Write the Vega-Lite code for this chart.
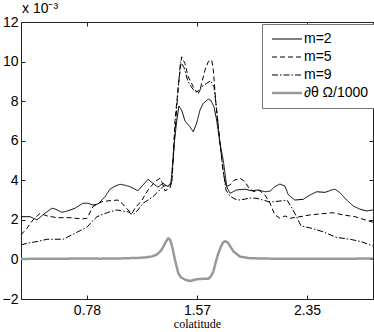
{
  "$schema": "https://vega.github.io/schema/vega-lite/v6.json",
  "width": 352,
  "height": 277,
  "autosize": {"type": "none"},
  "padding": {"left": 21, "top": 22, "right": 1, "bottom": 33},
  "config": {
    "view": {"stroke": "#222222", "strokeWidth": 1},
    "font": "Liberation Sans",
    "axis": {"domain": false, "grid": false, "tickColor": "#222222", "tickSize": -4, "labelColor": "black", "labelFontSize": 14, "labelFont": "Liberation Sans"},
    "legend": {"fillColor": "white", "strokeColor": "#777777", "padding": 8, "labelFontSize": 14, "labelFont": "Liberation Sans", "labelColor": "black", "symbolType": "stroke", "symbolSize": 900, "symbolStrokeWidth": 1, "symbolOffset": 10, "rowPadding": 4, "labelOffset": 10}
  },
  "datasets": {
    "curves": [
      {"series": "m=2", "x": 0.314, "y": 2.16}, {"series": "m=2", "x": 0.378, "y": 2.16}, {"series": "m=2", "x": 0.428, "y": 2.0}, {"series": "m=2", "x": 0.485, "y": 2.33}, {"series": "m=2", "x": 0.535, "y": 2.59}, {"series": "m=2", "x": 0.557, "y": 2.55}, {"series": "m=2", "x": 0.607, "y": 2.38}, {"series": "m=2", "x": 0.65, "y": 2.46}, {"series": "m=2", "x": 0.7, "y": 2.59}, {"series": "m=2", "x": 0.757, "y": 2.84}, {"series": "m=2", "x": 0.792, "y": 2.84}, {"series": "m=2", "x": 0.828, "y": 2.75}, {"series": "m=2", "x": 0.864, "y": 2.8}, {"series": "m=2", "x": 0.914, "y": 3.17}, {"series": "m=2", "x": 0.949, "y": 3.55}, {"series": "m=2", "x": 0.985, "y": 3.7}, {"series": "m=2", "x": 1.021, "y": 3.8}, {"series": "m=2", "x": 1.057, "y": 3.75}, {"series": "m=2", "x": 1.092, "y": 3.68}, {"series": "m=2", "x": 1.149, "y": 3.47}, {"series": "m=2", "x": 1.185, "y": 3.76}, {"series": "m=2", "x": 1.221, "y": 4.05}, {"series": "m=2", "x": 1.256, "y": 3.85}, {"series": "m=2", "x": 1.292, "y": 3.65}, {"series": "m=2", "x": 1.328, "y": 3.85}, {"series": "m=2", "x": 1.364, "y": 3.68}, {"series": "m=2", "x": 1.385, "y": 3.9}, {"series": "m=2", "x": 1.399, "y": 5.0}, {"series": "m=2", "x": 1.41, "y": 6.0}, {"series": "m=2", "x": 1.426, "y": 7.0}, {"series": "m=2", "x": 1.442, "y": 7.75}, {"series": "m=2", "x": 1.461, "y": 7.55}, {"series": "m=2", "x": 1.485, "y": 7.0}, {"series": "m=2", "x": 1.521, "y": 6.7}, {"series": "m=2", "x": 1.544, "y": 6.45}, {"series": "m=2", "x": 1.568, "y": 6.88}, {"series": "m=2", "x": 1.592, "y": 7.55}, {"series": "m=2", "x": 1.616, "y": 7.89}, {"series": "m=2", "x": 1.651, "y": 8.1}, {"series": "m=2", "x": 1.668, "y": 8.05}, {"series": "m=2", "x": 1.692, "y": 7.72}, {"series": "m=2", "x": 1.711, "y": 7.05}, {"series": "m=2", "x": 1.735, "y": 5.87}, {"series": "m=2", "x": 1.758, "y": 5.03}, {"series": "m=2", "x": 1.783, "y": 3.68}, {"series": "m=2", "x": 1.806, "y": 3.34}, {"series": "m=2", "x": 1.854, "y": 3.51}, {"series": "m=2", "x": 1.913, "y": 3.55}, {"series": "m=2", "x": 1.961, "y": 3.47}, {"series": "m=2", "x": 2.008, "y": 3.51}, {"series": "m=2", "x": 2.056, "y": 3.42}, {"series": "m=2", "x": 2.092, "y": 3.45}, {"series": "m=2", "x": 2.127, "y": 3.68}, {"series": "m=2", "x": 2.163, "y": 3.81}, {"series": "m=2", "x": 2.199, "y": 3.7}, {"series": "m=2", "x": 2.223, "y": 3.26}, {"series": "m=2", "x": 2.27, "y": 3.0}, {"series": "m=2", "x": 2.33, "y": 3.04}, {"series": "m=2", "x": 2.378, "y": 3.26}, {"series": "m=2", "x": 2.425, "y": 3.42}, {"series": "m=2", "x": 2.485, "y": 3.39}, {"series": "m=2", "x": 2.532, "y": 3.51}, {"series": "m=2", "x": 2.556, "y": 3.55}, {"series": "m=2", "x": 2.592, "y": 3.37}, {"series": "m=2", "x": 2.64, "y": 3.0}, {"series": "m=2", "x": 2.687, "y": 2.7}, {"series": "m=2", "x": 2.734, "y": 2.54}, {"series": "m=2", "x": 2.782, "y": 2.45}, {"series": "m=2", "x": 2.827, "y": 2.5},

      {"series": "m=5", "x": 0.314, "y": 1.24}, {"series": "m=5", "x": 0.357, "y": 1.58}, {"series": "m=5", "x": 0.4, "y": 2.0}, {"series": "m=5", "x": 0.45, "y": 2.33}, {"series": "m=5", "x": 0.5, "y": 2.2}, {"series": "m=5", "x": 0.571, "y": 2.11}, {"series": "m=5", "x": 0.664, "y": 2.11}, {"series": "m=5", "x": 0.75, "y": 2.05}, {"series": "m=5", "x": 0.785, "y": 2.08}, {"series": "m=5", "x": 0.828, "y": 2.67}, {"series": "m=5", "x": 0.892, "y": 2.92}, {"series": "m=5", "x": 0.949, "y": 2.97}, {"series": "m=5", "x": 1.007, "y": 3.0}, {"series": "m=5", "x": 1.035, "y": 2.84}, {"series": "m=5", "x": 1.078, "y": 2.5}, {"series": "m=5", "x": 1.107, "y": 2.33}, {"series": "m=5", "x": 1.128, "y": 2.59}, {"series": "m=5", "x": 1.178, "y": 3.0}, {"series": "m=5", "x": 1.221, "y": 3.51}, {"series": "m=5", "x": 1.271, "y": 3.93}, {"series": "m=5", "x": 1.306, "y": 4.1}, {"series": "m=5", "x": 1.321, "y": 3.9}, {"series": "m=5", "x": 1.342, "y": 3.47}, {"series": "m=5", "x": 1.378, "y": 3.6}, {"series": "m=5", "x": 1.392, "y": 4.0}, {"series": "m=5", "x": 1.414, "y": 7.05}, {"series": "m=5", "x": 1.437, "y": 8.73}, {"series": "m=5", "x": 1.461, "y": 10.24}, {"series": "m=5", "x": 1.485, "y": 9.9}, {"series": "m=5", "x": 1.508, "y": 9.23}, {"series": "m=5", "x": 1.544, "y": 8.73}, {"series": "m=5", "x": 1.568, "y": 8.47}, {"series": "m=5", "x": 1.592, "y": 8.56}, {"series": "m=5", "x": 1.628, "y": 9.57}, {"series": "m=5", "x": 1.651, "y": 9.99}, {"series": "m=5", "x": 1.676, "y": 10.08}, {"series": "m=5", "x": 1.687, "y": 9.6}, {"series": "m=5", "x": 1.706, "y": 7.89}, {"series": "m=5", "x": 1.735, "y": 5.88}, {"series": "m=5", "x": 1.756, "y": 4.5}, {"series": "m=5", "x": 1.778, "y": 3.68}, {"series": "m=5", "x": 1.806, "y": 3.76}, {"series": "m=5", "x": 1.835, "y": 4.0}, {"series": "m=5", "x": 1.878, "y": 4.1}, {"series": "m=5", "x": 1.913, "y": 3.93}, {"series": "m=5", "x": 1.942, "y": 3.6}, {"series": "m=5", "x": 1.978, "y": 3.42}, {"series": "m=5", "x": 2.013, "y": 3.5}, {"series": "m=5", "x": 2.056, "y": 3.26}, {"series": "m=5", "x": 2.092, "y": 2.84}, {"series": "m=5", "x": 2.127, "y": 2.25}, {"series": "m=5", "x": 2.163, "y": 2.08}, {"series": "m=5", "x": 2.199, "y": 2.2}, {"series": "m=5", "x": 2.235, "y": 2.08}, {"series": "m=5", "x": 2.306, "y": 2.16}, {"series": "m=5", "x": 2.378, "y": 2.25}, {"series": "m=5", "x": 2.449, "y": 2.3}, {"series": "m=5", "x": 2.542, "y": 2.36}, {"series": "m=5", "x": 2.613, "y": 2.25}, {"series": "m=5", "x": 2.699, "y": 2.16}, {"series": "m=5", "x": 2.756, "y": 2.03}, {"series": "m=5", "x": 2.827, "y": 1.88},

      {"series": "m=9", "x": 0.314, "y": 0.73}, {"series": "m=9", "x": 0.357, "y": 0.82}, {"series": "m=9", "x": 0.428, "y": 0.9}, {"series": "m=9", "x": 0.5, "y": 1.02}, {"series": "m=9", "x": 0.542, "y": 1.02}, {"series": "m=9", "x": 0.614, "y": 1.02}, {"series": "m=9", "x": 0.664, "y": 1.19}, {"series": "m=9", "x": 0.721, "y": 1.4}, {"series": "m=9", "x": 0.785, "y": 1.63}, {"series": "m=9", "x": 0.821, "y": 1.91}, {"series": "m=9", "x": 0.857, "y": 2.16}, {"series": "m=9", "x": 0.899, "y": 2.28}, {"series": "m=9", "x": 0.949, "y": 2.41}, {"series": "m=9", "x": 1.0, "y": 2.5}, {"series": "m=9", "x": 1.035, "y": 2.45}, {"series": "m=9", "x": 1.078, "y": 2.41}, {"series": "m=9", "x": 1.114, "y": 2.25}, {"series": "m=9", "x": 1.149, "y": 2.5}, {"series": "m=9", "x": 1.185, "y": 2.84}, {"series": "m=9", "x": 1.221, "y": 3.0}, {"series": "m=9", "x": 1.256, "y": 3.17}, {"series": "m=9", "x": 1.292, "y": 3.42}, {"series": "m=9", "x": 1.328, "y": 3.68}, {"series": "m=9", "x": 1.356, "y": 3.76}, {"series": "m=9", "x": 1.378, "y": 3.7}, {"series": "m=9", "x": 1.392, "y": 4.0}, {"series": "m=9", "x": 1.414, "y": 6.5}, {"series": "m=9", "x": 1.435, "y": 8.5}, {"series": "m=9", "x": 1.453, "y": 9.99}, {"series": "m=9", "x": 1.478, "y": 9.7}, {"series": "m=9", "x": 1.506, "y": 9.0}, {"series": "m=9", "x": 1.542, "y": 8.6}, {"series": "m=9", "x": 1.58, "y": 8.39}, {"series": "m=9", "x": 1.604, "y": 8.73}, {"series": "m=9", "x": 1.64, "y": 8.9}, {"series": "m=9", "x": 1.668, "y": 9.03}, {"series": "m=9", "x": 1.692, "y": 8.73}, {"series": "m=9", "x": 1.711, "y": 7.55}, {"series": "m=9", "x": 1.735, "y": 5.88}, {"series": "m=9", "x": 1.756, "y": 4.6}, {"series": "m=9", "x": 1.778, "y": 3.5}, {"series": "m=9", "x": 1.806, "y": 3.2}, {"series": "m=9", "x": 1.842, "y": 3.05}, {"series": "m=9", "x": 1.878, "y": 3.0}, {"series": "m=9", "x": 1.913, "y": 3.05}, {"series": "m=9", "x": 1.949, "y": 3.1}, {"series": "m=9", "x": 1.999, "y": 3.09}, {"series": "m=9", "x": 2.042, "y": 3.0}, {"series": "m=9", "x": 2.092, "y": 2.9}, {"series": "m=9", "x": 2.163, "y": 2.95}, {"series": "m=9", "x": 2.213, "y": 3.0}, {"series": "m=9", "x": 2.249, "y": 2.6}, {"series": "m=9", "x": 2.278, "y": 2.2}, {"series": "m=9", "x": 2.313, "y": 1.7}, {"series": "m=9", "x": 2.385, "y": 1.58}, {"series": "m=9", "x": 2.471, "y": 1.4}, {"series": "m=9", "x": 2.563, "y": 1.12}, {"series": "m=9", "x": 2.663, "y": 1.02}, {"series": "m=9", "x": 2.742, "y": 0.9}, {"series": "m=9", "x": 2.827, "y": 0.68},

      {"series": "∂θ Ω/1000", "x": 0.314, "y": 0.02}, {"series": "∂θ Ω/1000", "x": 0.45, "y": 0.04}, {"series": "∂θ Ω/1000", "x": 0.592, "y": 0.03}, {"series": "∂θ Ω/1000", "x": 0.735, "y": 0.05}, {"series": "∂θ Ω/1000", "x": 0.878, "y": 0.04}, {"series": "∂θ Ω/1000", "x": 1.021, "y": 0.05}, {"series": "∂θ Ω/1000", "x": 1.164, "y": 0.08}, {"series": "∂θ Ω/1000", "x": 1.214, "y": 0.11}, {"series": "∂θ Ω/1000", "x": 1.249, "y": 0.15}, {"series": "∂θ Ω/1000", "x": 1.285, "y": 0.25}, {"series": "∂θ Ω/1000", "x": 1.314, "y": 0.45}, {"series": "∂θ Ω/1000", "x": 1.335, "y": 0.7}, {"series": "∂θ Ω/1000", "x": 1.353, "y": 0.95}, {"series": "∂θ Ω/1000", "x": 1.366, "y": 1.07}, {"series": "∂θ Ω/1000", "x": 1.378, "y": 1.0}, {"series": "∂θ Ω/1000", "x": 1.392, "y": 0.7}, {"series": "∂θ Ω/1000", "x": 1.414, "y": -0.03}, {"series": "∂θ Ω/1000", "x": 1.437, "y": -0.7}, {"series": "∂θ Ω/1000", "x": 1.456, "y": -0.9}, {"series": "∂θ Ω/1000", "x": 1.485, "y": -1.02}, {"series": "∂θ Ω/1000", "x": 1.521, "y": -1.09}, {"series": "∂θ Ω/1000", "x": 1.568, "y": -1.0}, {"series": "∂θ Ω/1000", "x": 1.613, "y": -0.98}, {"series": "∂θ Ω/1000", "x": 1.651, "y": -0.98}, {"series": "∂θ Ω/1000", "x": 1.671, "y": -0.85}, {"series": "∂θ Ω/1000", "x": 1.687, "y": -0.62}, {"series": "∂θ Ω/1000", "x": 1.706, "y": -0.1}, {"series": "∂θ Ω/1000", "x": 1.723, "y": 0.31}, {"series": "∂θ Ω/1000", "x": 1.742, "y": 0.65}, {"series": "∂θ Ω/1000", "x": 1.756, "y": 0.85}, {"series": "∂θ Ω/1000", "x": 1.771, "y": 0.92}, {"series": "∂θ Ω/1000", "x": 1.792, "y": 0.85}, {"series": "∂θ Ω/1000", "x": 1.813, "y": 0.6}, {"series": "∂θ Ω/1000", "x": 1.835, "y": 0.38}, {"series": "∂θ Ω/1000", "x": 1.878, "y": 0.14}, {"series": "∂θ Ω/1000", "x": 1.949, "y": 0.06}, {"series": "∂θ Ω/1000", "x": 2.092, "y": 0.04}, {"series": "∂θ Ω/1000", "x": 2.306, "y": 0.03}, {"series": "∂θ Ω/1000", "x": 2.592, "y": 0.03}, {"series": "∂θ Ω/1000", "x": 2.827, "y": 0.05}
    ],
    "scalenote": [{"label": "x 10⁻³", "x": 0.31416, "y": 12}]
  },
  "layer": [
    {
      "data": {"name": "curves"},
      "mark": {"type": "line", "strokeJoin": "round", "strokeCap": "butt"},
      "encoding": {
        "x": {"field": "x", "type": "quantitative",
          "scale": {"domain": [0.31416, 2.82743], "nice": false, "zero": false},
          "axis": {"orient": "bottom", "values": [0.785398, 1.570796, 2.356194], "labelExpr": "format(floor(datum.value*100)/100, '.2f')", "labelPadding": 8, "title": "colatitude", "titleFont": "Liberation Serif", "titleFontSize": 12, "titleFontWeight": "normal", "titlePadding": 1, "titleColor": "black"}},
        "y": {"field": "y", "type": "quantitative",
          "scale": {"domain": [-2, 12], "nice": false, "zero": false},
          "axis": {"orient": "left", "values": [-2, 0, 2, 4, 6, 8, 10, 12], "labelPadding": 7, "title": null}},
        "color": {"field": "series", "type": "nominal",
          "scale": {"domain": ["m=2", "m=5", "m=9", "∂θ Ω/1000"], "range": ["black", "black", "black", "#999999"]},
          "legend": {"orient": "none", "legendX": 241, "legendY": 2, "title": null,
            "encode": {"symbols": {"update": {"strokeWidth": {"signal": "datum.value === '∂θ Ω/1000' ? 2.5 : 1"}}}}}},
        "strokeDash": {"field": "series", "type": "nominal",
          "scale": {"domain": ["m=2", "m=5", "m=9", "∂θ Ω/1000"], "range": [[1, 0], [5, 3], [6, 2, 1.5, 2], [1, 0]]},
          "legend": {"orient": "none", "legendX": 241, "legendY": 2, "title": null}},
        "strokeWidth": {"condition": {"test": "datum.series === '∂θ Ω/1000'", "value": 2.5}, "value": 1}
      }
    },
    {
      "data": {"name": "curves"},
      "mark": {"type": "line", "opacity": 0},
      "encoding": {
        "x": {"field": "x", "type": "quantitative", "scale": {"domain": [0.31416, 2.82743], "nice": false, "zero": false},
          "axis": {"orient": "top", "values": [0.785398, 1.570796, 2.356194], "labels": false, "title": null}},
        "y": {"field": "y", "type": "quantitative", "scale": {"domain": [-2, 12], "nice": false, "zero": false},
          "axis": {"orient": "right", "values": [-2, 0, 2, 4, 6, 8, 10, 12], "labels": false, "title": null}},
        "detail": {"field": "series", "type": "nominal"}
      }
    },
    {
      "data": {"name": "scalenote"},
      "mark": {"type": "text", "align": "left", "baseline": "alphabetic", "dx": 1, "dy": -9, "fontSize": 14, "font": "Liberation Sans", "color": "black"},
      "encoding": {
        "x": {"field": "x", "type": "quantitative", "scale": {"domain": [0.31416, 2.82743], "nice": false, "zero": false}, "axis": null},
        "y": {"field": "y", "type": "quantitative", "scale": {"domain": [-2, 12], "nice": false, "zero": false}, "axis": null},
        "text": {"field": "label"}
      }
    }
  ],
  "resolve": {"scale": {"x": "shared", "y": "shared"}, "axis": {"x": "independent", "y": "independent"}}
}
